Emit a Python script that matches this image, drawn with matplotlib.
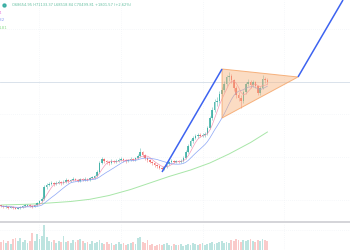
import numpy as np
import pandas as pd
import matplotlib
matplotlib.use("Agg")
import matplotlib.pyplot as plt
from matplotlib.patches import Polygon
from matplotlib.lines import Line2D

### Data (daily candles, price in USD) ###
first_open = 28000
closes = [
	27900, 27550, 27725, 27375, 27550, 27200, 27025, 27200, 27550, 27900,
	28075, 28250, 27900, 27550, 28250, 28950, 29650, 30350, 34550, 35250,
	35600, 35950, 35600, 35950, 36300, 35950, 36300, 37000, 36650, 37000,
	37350, 37000, 36650, 37350, 37000, 37350, 37000, 37700, 37700, 38400,
	39800, 42950, 44350, 43650, 43300, 42950, 43650, 43300, 43650, 44000,
	44350, 44000, 43650, 44000, 44350, 44000, 44700, 45400, 46800, 45750,
	44700, 44000, 43300, 42950, 42250, 41900, 41200, 40850, 41550, 42600,
	43300, 43650, 43300, 43650, 43300, 43650, 44700, 46800, 48900, 50650,
	51700, 52400, 52750, 52400, 52750, 53100, 55200, 58700, 61500, 64300,
	64650, 67100, 68500, 70600, 73050, 73400, 72000, 69200, 66750, 65700,
	64650, 67800, 70600, 71300, 70250, 71300, 69900, 67450, 69200, 72350,
	72000, 71300]
highs = [
	28400, 28200, 28100, 27900, 27900, 27800, 27500, 27600, 27900, 28300,
	28500, 28700, 28500, 28100, 28600, 29300, 30100, 31000, 35200, 36000,
	36300, 36800, 36400, 36500, 37100, 36800, 36900, 37600, 37400, 37500,
	37900, 37800, 37300, 37800, 37700, 37900, 37800, 38200, 38300, 38900,
	40500, 43800, 45000, 44800, 44100, 43800, 44200, 44000, 44300, 44600,
	45000, 44800, 44400, 44500, 44900, 44800, 45200, 46000, 48200, 47300,
	46200, 45100, 44400, 43700, 43400, 42700, 42300, 41700, 42000, 43100,
	43800, 44200, 44100, 44100, 44000, 44200, 45300, 47400, 49600, 51400,
	52500, 53200, 53500, 53300, 53400, 53900, 56000, 59500, 62400, 65200,
	65900, 68000, 69500, 71600, 73900, 74800, 74000, 72500, 69900, 67800,
	66600, 68400, 71300, 72200, 71900, 72000, 71800, 70400, 69900, 73750,
	73100, 72600]
lows = [
	27500, 27200, 27300, 27000, 27100, 26900, 26700, 26800, 27000, 27300,
	27600, 27800, 27600, 27200, 27400, 28000, 28700, 29400, 30100, 34000,
	34800, 35200, 35000, 35200, 35500, 35400, 35600, 36000, 36100, 36300,
	36600, 36500, 36200, 36300, 36600, 36700, 36500, 36700, 37200, 37300,
	38000, 39500, 42500, 43000, 42700, 42300, 42500, 42800, 42900, 43200,
	43500, 43400, 43100, 43200, 43600, 43500, 43600, 44300, 45000, 45200,
	44100, 43400, 42800, 42300, 41700, 41300, 40700, 40200, 40400, 41100,
	42200, 42900, 42800, 42900, 42800, 42900, 43300, 44300, 46300, 48400,
	50100, 51200, 51800, 51900, 51900, 52200, 52700, 54800, 58000, 60800,
	62800, 64000, 66300, 67800, 70000, 71800, 71000, 68300, 65600, 64500,
	62200, 64000, 67100, 69800, 69300, 69500, 69100, 66700, 66800, 68700,
	71000, 70600]
# volume in thousand BTC
volumes = [
	8, 10, 7, 9, 6, 11, 12, 9, 12, 8,
	10, 7, 9, 17, 9, 16, 11, 14, 25, 13,
	9, 8, 10, 7, 9, 8, 14, 8, 9, 7,
	10, 8, 10, 11, 9, 7, 8, 6, 9, 7,
	8, 10, 7, 6, 8, 6, 7, 5, 6, 8,
	6, 7, 5, 6, 7, 8, 6, 12, 13, 8,
	7, 10, 5, 6, 4, 5, 6, 5, 6, 7,
	5, 4, 6, 5, 5, 6, 4, 5, 6, 5,
	7, 6, 5, 6, 7, 5, 6, 7, 8, 6,
	7, 8, 9, 7, 8, 7, 10, 9, 11, 10,
	8, 10, 9, 10, 11, 9, 8, 10, 9, 11,
	10, 9]

# long moving average (its start lies off-screen, so read as points)
maLongIdx = [0, 12, 20, 29, 37, 45, 54, 62, 70, 79, 87, 95, 104, 111]
maLongVal = [28250, 28530, 28950, 29475, 30245, 31575, 33675, 35950, 38225, 40500,
	42950, 46100, 50125, 53800]

# drawings: (bar index, price) anchors
trend1Idx = [67.1, 92.1]
trend1Px = [39800, 75850]
triIdx = [92.1, 123.75, 92.1]
triPx = [75850, 73050, 58700]
trend2Idx = [123.75, 142.5]
trend2Px = [73050, 100000]

header = "O68654.95 H71133.37 L68518.84 C70499.81 +1801.57 (+2.62%)"
maLabels = ["4", ".32", "1.81"]

### Colours ###
UP = "#26a69a"
DOWN = "#ef5350"

df = pd.DataFrame({"close": closes, "high": highs, "low": lows, "vol": volumes})
df["open"] = [first_open] + closes[:-1]
df["up"] = df["close"] >= df["open"]
df["maFast"] = df["close"].rolling(5, min_periods=1).mean()
df["maSlow"] = df["close"].rolling(12, min_periods=1).mean()
idx = np.arange(len(df))
cols = np.where(df["up"], UP, DOWN)

fig = plt.figure(figsize=(3.5, 2.5), dpi=100)
ax = fig.add_axes([0, 0.116, 1, 0.884])
axv = fig.add_axes([0, 0, 1, 0.108])
for a in (ax, axv):
	a.set_xlim(-0.42, 145.42)
	a.set_xticks([])
	a.set_yticks([])
	for s in a.spines.values():
		s.set_visible(False)
ax.set_ylim(22650, 100000)
axv.set_ylim(0, 27)

# faint grid
for gx in [16, 50, 84, 118]:
	ax.axvline(gx, color="#eef1f6", lw=0.5, ls=(0, (1, 2)), zorder=0)
	axv.axvline(gx, color="#eef1f6", lw=0.5, ls=(0, (1, 2)), zorder=0)
for gy in [30000, 45000, 60000, 90000]:
	ax.axhline(gy, color="#eef1f6", lw=0.5, ls=(0, (1, 2)), zorder=0)
axv.axhline(20, color="#eef1f6", lw=0.5, ls=(0, (1, 2)), zorder=0)

# last price line
ax.axhline(df["close"].iloc[-1], color="#d3dde8", lw=0.6, zorder=1)

# candles
bodyLo = np.minimum(df["open"], df["close"])
bodyH = np.maximum(np.abs(df["close"] - df["open"]), 200)
ax.vlines(idx, df["low"], df["high"], colors=cols, lw=0.4, alpha=0.7, zorder=3)
ax.bar(idx, bodyH, bottom=bodyLo, width=0.65, color=cols, alpha=0.75, lw=0, zorder=3)

# moving averages
ax.plot(idx, df["maFast"], color="#f48fb1", lw=0.5, alpha=0.9, zorder=4)
ax.plot(idx, df["maSlow"], color="#7f9cf5", lw=0.5, alpha=0.9, zorder=4)
ax.plot(maLongIdx, maLongVal, color="#a8e6a8", lw=0.7, zorder=2)

# drawings
ax.add_patch(Polygon(list(zip(triIdx, triPx)), closed=True, facecolor="#f7b27a", alpha=0.45,
	edgecolor="none", zorder=5))
ax.add_patch(Polygon(list(zip(triIdx, triPx)), closed=True, fill=False, edgecolor="#f5a263",
	lw=0.7, alpha=0.8, zorder=5))
ax.plot(trend1Idx, trend1Px, color="#3d63f0", lw=1.1, solid_capstyle="butt", zorder=6)
ax.plot(trend2Idx, trend2Px, color="#3d63f0", lw=1.1, solid_capstyle="butt", zorder=6)

# volume
axv.bar(idx, df["vol"], width=0.75, color=cols, alpha=0.3, lw=0)

# pane separator
fig.add_artist(Line2D([0, 1], [0.112, 0.112], color="#c9c9ce", lw=1.1, transform=fig.transFigure,
	zorder=10))

# legend texts
fig.add_artist(Line2D([4 / 350], [1 - 5 / 250], marker="o", markersize=2.2, color=UP,
	alpha=0.8, transform=fig.transFigure))
fig.text(12 / 350, 1 - 5 / 250, header, fontsize=2.6, color="#64bfa0", va="center", ha="left")
for lbl, yy, c in zip(maLabels, [13, 20, 28], ["#e05fd6", "#6b7ff0", "#6fd36f"]):
	fig.text(-1 / 350, 1 - yy / 250, lbl, fontsize=2.8, color=c, va="center", ha="left", alpha=0.8)

fig.savefig("out.png", dpi=100, facecolor="white")
